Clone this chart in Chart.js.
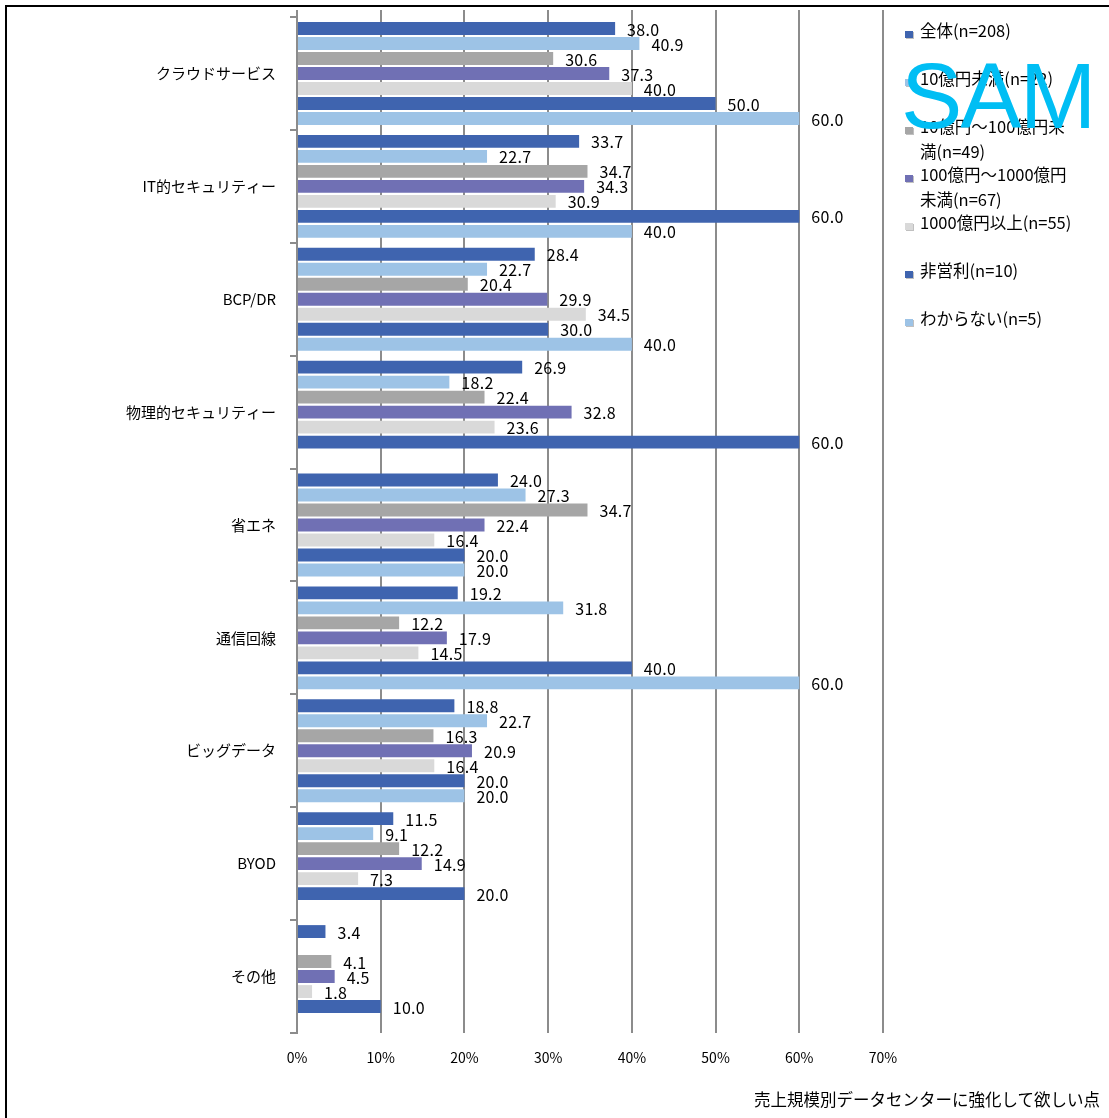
<!DOCTYPE html>
<html lang="ja">
<head>
<meta charset="utf-8">
<title>売上規模別データセンターに強化して欲しい点</title>
<script src="https://cdn.jsdelivr.net/npm/chart.js@4/dist/chart.umd.min.js"></script>
<style>
  html, body { margin: 0; padding: 0; background: #fff; }
  #wrap { position: relative; width: 1109px; height: 1118px; overflow: hidden;
          font-family: "Noto Sans CJK JP", "Noto Sans", sans-serif; color: #000; }
  #frame { position: absolute; left: 5px; top: 5px; width: 1200px; height: 1200px;
           border-top: 2px solid #000; border-left: 2px solid #000; pointer-events: none; }
  #c { position: absolute; left: 0; top: 0; }
  #legend { position: absolute; left: 0; top: 0; width: 1109px; height: 400px; }
  .lg { position: absolute; left: 920px; font-size: 16.5px; line-height: 25px; white-space: nowrap; }
  .lg i { position: absolute; left: -15px; top: 13px; width: 8px; height: 7px;
          box-shadow: 1px 1px 0 rgba(150,150,150,0.6); }
  #title { position: absolute; right: 9px; top: 1087px; font-size: 16.5px; line-height: 24px; white-space: nowrap; }
  #mark { position: absolute; left: 901px; top: 41px; font-family: "Liberation Sans", Arial, sans-serif;
          font-size: 92px; line-height: 110px; color: #00BEF4; letter-spacing: -2px; white-space: nowrap; }
</style>
</head>
<body>
<div id="wrap">
  <canvas id="c" width="1109" height="1118"></canvas>
  <div id="legend"></div>
  <div id="title">売上規模別データセンターに強化して欲しい点</div>
  <div id="mark">SAM</div>
  <div id="frame"></div>
</div>
<script>
// Items the respondents want data centres to strengthen
const categories = [
  'クラウドサービス', 'IT的セキュリティー', 'BCP/DR', '物理的セキュリティー',
  '省エネ', '通信回線', 'ビッグデータ', 'BYOD', 'その他'
];

// Respondent groups by annual sales
const seriesNames = [
  '全体(n=208)', '10億円未満(n=22)', '10億円～100億円未満(n=49)',
  '100億円～1000億円未満(n=67)', '1000億円以上(n=55)', '非営利(n=10)', 'わからない(n=5)'
];

// Share of respondents (%) per category, one array per group
const allRespondents = [38.0, 33.7, 28.4, 26.9, 24.0, 19.2, 18.8, 11.5, 3.4];
const under1bn       = [40.9, 22.7, 22.7, 18.2, 27.3, 31.8, 22.7, 9.1, null];
const from1to10bn    = [30.6, 34.7, 20.4, 22.4, 34.7, 12.2, 16.3, 12.2, 4.1];
const from10to100bn  = [37.3, 34.3, 29.9, 32.8, 22.4, 17.9, 20.9, 14.9, 4.5];
const over100bn      = [40.0, 30.9, 34.5, 23.6, 16.4, 14.5, 16.4, 7.3, 1.8];
const nonProfit      = [50.0, 60.0, 30.0, 60.0, 20.0, 40.0, 20.0, 20.0, 10.0];
const unknownSize    = [60.0, 40.0, 40.0, null, 20.0, 60.0, 20.0, null, null];

// Axis ticks (percent)
const xTicks = [0, 10, 20, 30, 40, 50, 60, 70];

const seriesValues = [allRespondents, under1bn, from1to10bn, from10to100bn, over100bn, nonProfit, unknownSize];
const seriesColors = ['#3F64AF', '#9DC3E6', '#A6A6A6', '#7070B4', '#D9D9D9', '#3F64AF', '#9DC3E6'];

// Legend text lines (long names wrap onto a second line) and their top offsets
const legendLines = [
  ['全体(n=208)'],
  ['10億円未満(n=22)'],
  ['10億円～100億円未', '満(n=49)'],
  ['100億円～1000億円', '未満(n=67)'],
  ['1000億円以上(n=55)'],
  ['非営利(n=10)'],
  ['わからない(n=5)']
];
const legendTops = [18, 66, 114, 162, 210, 258, 306];

const legendEl = document.getElementById('legend');
legendLines.forEach((lines, i) => {
  const d = document.createElement('div');
  d.className = 'lg';
  d.style.top = legendTops[i] + 'px';
  const box = document.createElement('i');
  box.style.background = seriesColors[i];
  d.appendChild(box);
  lines.forEach((t, k) => {
    if (k) d.appendChild(document.createElement('br'));
    d.appendChild(document.createTextNode(t));
  });
  legendEl.appendChild(d);
});

const FONT = '"Noto Sans CJK JP", "Noto Sans", sans-serif';
const GRID = '#8C8C8C';

// Value labels to the right of each bar
const valueLabels = {
  id: 'valueLabels',
  afterDatasetsDraw(chart) {
    const ctx = chart.ctx;
    ctx.save();
    ctx.font = '16px ' + FONT;
    ctx.fillStyle = '#000';
    ctx.textAlign = 'left';
    ctx.textBaseline = 'middle';
    if ('letterSpacing' in ctx) ctx.letterSpacing = '0.3px';
    chart.data.datasets.forEach((ds, di) => {
      chart.getDatasetMeta(di).data.forEach((bar, j) => {
        const v = ds.data[j];
        if (v === null || v === undefined) return;
        ctx.fillText(v.toFixed(1), bar.x + 12, bar.y + 1);
      });
    });
    ctx.restore();
  }
};

new Chart(document.getElementById('c'), {
  type: 'bar',
  data: {
    labels: categories,
    datasets: seriesNames.map((name, i) => ({
      label: name,
      data: seriesValues[i],
      backgroundColor: seriesColors[i],
      borderWidth: 0,
      categoryPercentage: 0.93,
      barPercentage: 0.86
    }))
  },
  options: {
    indexAxis: 'y',
    responsive: false,
    animation: false,
    devicePixelRatio: 1,
    layout: { padding: { top: 10, right: 226, bottom: 0, left: 0 } },
    plugins: { legend: { display: false }, tooltip: { enabled: false } },
    scales: {
      x: {
        position: 'bottom',
        min: 0, max: 70,
        afterBuildTicks(scale) { scale.ticks = xTicks.map(v => ({ value: v })); },
        afterFit(scale) { scale.height = 85; scale.paddingLeft = 0; scale.paddingRight = 0; },
        grid: { color: GRID, lineWidth: 2, drawTicks: false },
        border: { display: false },
        ticks: { padding: 16, color: '#000', font: { family: FONT, size: 14 },
                 callback: v => v + '%' }
      },
      xTop: {
        axis: 'x',
        position: 'top',
        min: 0, max: 70,
        afterBuildTicks(scale) { scale.ticks = xTicks.map(v => ({ value: v })); },
        afterFit(scale) { scale.height = 7; scale.paddingLeft = 0; scale.paddingRight = 0; },
        grid: { color: GRID, lineWidth: 2, drawOnChartArea: false, tickLength: 7 },
        border: { display: false },
        ticks: { display: false }
      },
      y: {
        afterFit(scale) { scale.width = 297; scale.paddingTop = 0; scale.paddingBottom = 0; },
        grid: { offset: true, color: GRID, lineWidth: 2, drawOnChartArea: false, tickLength: 7 },
        border: { display: true, color: GRID, width: 2 },
        ticks: { padding: 14, color: '#000', font: { family: FONT, size: 15 } }
      }
    }
  },
  plugins: [valueLabels]
});
</script>
</body>
</html>
